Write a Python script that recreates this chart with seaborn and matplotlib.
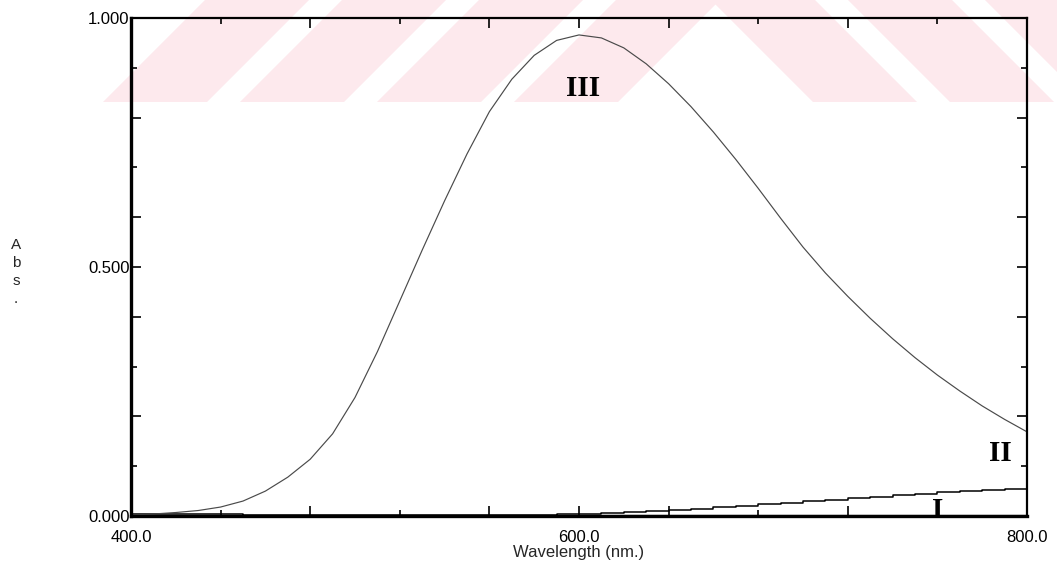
import matplotlib
matplotlib.use("Agg")
import numpy as np
import pandas as pd
import seaborn as sns
import matplotlib.pyplot as plt
from matplotlib.patches import Polygon
from matplotlib.ticker import FixedLocator, FuncFormatter

# ---- spectra (absorbance vs wavelength, nm) ----
wl_III = list(range(400, 801, 10))
abs_III = [0.002, 0.004, 0.007, 0.011, 0.018, 0.030, 0.050, 0.078, 0.114, 0.165,
           0.238, 0.330, 0.432, 0.534, 0.633, 0.727, 0.812, 0.877, 0.925, 0.955,
           0.966, 0.960, 0.940, 0.908, 0.868, 0.822, 0.771, 0.716, 0.658, 0.598,
           0.540, 0.488, 0.441, 0.397, 0.356, 0.318, 0.283, 0.251, 0.221, 0.194,
           0.169]

wl_II = [400, 450, 500, 550, 560, 570, 580, 590, 600, 610, 620, 630, 640, 650,
         660, 670, 680, 690, 700, 710, 720, 730, 740, 750, 760, 770, 780, 790, 800]
abs_II = [0.004, 0.003, 0.003, 0.003, 0.003, 0.003, 0.003, 0.004, 0.005, 0.006,
          0.008, 0.010, 0.013, 0.015, 0.018, 0.021, 0.024, 0.027, 0.030, 0.033,
          0.036, 0.039, 0.042, 0.045, 0.048, 0.050, 0.052, 0.054, 0.055]

wl_I = [400, 500, 600, 700, 800]
abs_I = [0.001, 0.001, 0.001, 0.001, 0.001]

curve_names = ["I", "II", "III"]
x_tick_labels = ["400.0", "600.0", "800.0"]
y_tick_labels = ["0.000", "0.500", "1.000"]

df = pd.concat([
    pd.DataFrame({"wl": wl_I, "A": abs_I, "curve": "I"}),
    pd.DataFrame({"wl": wl_II, "A": abs_II, "curve": "II"}),
    pd.DataFrame({"wl": wl_III, "A": abs_III, "curve": "III"}),
])

sns.set_theme(style="ticks")
plt.rcParams["font.family"] = ["Liberation Sans", "DejaVu Sans"]

W, H = 1057, 569
fig = plt.figure(figsize=(W / 100, H / 100), dpi=100, facecolor="white")

# light diagonal background band across the top of the page
def px_poly(pts):
    return Polygon([(x / W, 1 - y / H) for x, y in pts], closed=True,
                   transform=fig.transFigure, facecolor="#fde9ed",
                   edgecolor="none", zorder=-1)

band_bot, band_top, stripe_w = 102, 0, 104
for a in [103, 240, 377, 514]:
    fig.add_artist(px_poly([(a, band_bot), (a + stripe_w, band_bot),
                            (a + stripe_w + 102, band_top), (a + 102, band_top)]))
for a in [813, 950, 1087]:
    fig.add_artist(px_poly([(a, band_bot), (a + stripe_w, band_bot),
                            (a + stripe_w - 102, band_top), (a - 102, band_top)]))

ax = fig.add_axes([131 / W, 1 - 516 / H, (1027 - 131) / W, (516 - 18) / H])
ax.set_facecolor("none")

styles = {"I": ("black", 1.6), "II": ("black", 1.1), "III": ("#4a4a4a", 0.85)}
for name in curve_names:
    sub = df[df["curve"] == name]
    color, lw = styles[name]
    sns.lineplot(data=sub, x="wl", y="A", ax=ax, color=color, linewidth=lw,
                 drawstyle="steps-post" if name == "II" else "default",
                 estimator=None, sort=False, legend=False)

ax.set_xlim(400, 800)
ax.set_ylim(0, 1.0)

# ticks: labelled values plus the instrument's tick pattern
ax.xaxis.set_major_locator(FixedLocator([400, 480, 560, 600, 640, 720, 800]))
ax.xaxis.set_minor_locator(FixedLocator([440, 520, 680, 760]))
ax.yaxis.set_major_locator(FixedLocator([0.0, 0.2, 0.4, 0.5, 0.6, 0.8, 1.0]))
ax.yaxis.set_minor_locator(FixedLocator([0.1, 0.3, 0.7, 0.9]))
xlab = dict(zip([400, 600, 800], x_tick_labels))
ylab = dict(zip([0.0, 0.5, 1.0], y_tick_labels))
ax.xaxis.set_major_formatter(FuncFormatter(lambda v, p: xlab.get(round(v), "")))
ax.yaxis.set_major_formatter(FuncFormatter(lambda v, p: ylab.get(round(v, 1), "")))

ax.tick_params(which="both", direction="in", top=True, right=True,
               colors="black", labelsize=12, width=1.2)
ax.tick_params(which="major", length=7)
ax.tick_params(which="minor", length=4)
ax.tick_params(axis="x", which="both", pad=10)
ax.tick_params(axis="y", which="both", pad=1)

for side, lw in [("left", 2.4), ("bottom", 2.4), ("top", 1.6), ("right", 1.6)]:
    ax.spines[side].set_visible(True)
    ax.spines[side].set_linewidth(lw)
    ax.spines[side].set_color("black")

ax.set_xlabel("Wavelength (nm.)", fontsize=12, labelpad=0)
ax.set_ylabel("")
fig.text(16 / W, 1 - 272 / H, "A\nb\ns\n.", ha="center", va="center",
         fontsize=11, linespacing=1.35)

# curve labels
label_pos = {"III": (602, 0.859), "II": (788, 0.125), "I": (760, 0.012)}
for name, (xx, yy) in label_pos.items():
    ax.text(xx, yy, name, ha="center", va="center", fontsize=21,
            fontweight="bold", family=["Liberation Serif", "DejaVu Serif"],
            color="black")

fig.savefig("out.png", dpi=100, facecolor="white")
